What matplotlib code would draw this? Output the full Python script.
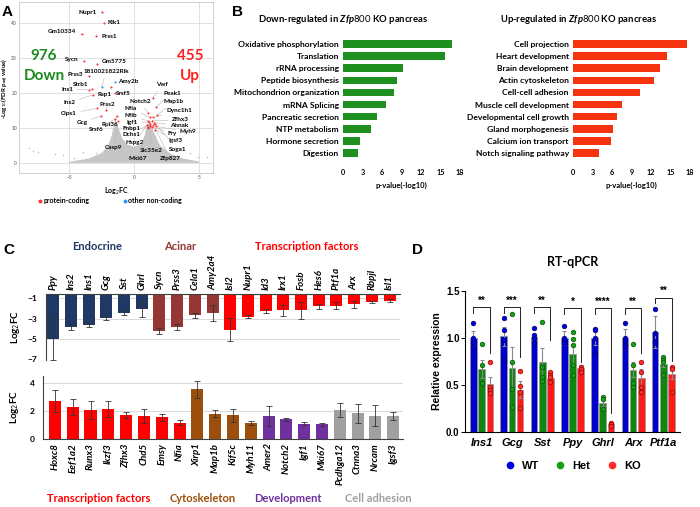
import matplotlib
matplotlib.use("Agg")
import matplotlib.pyplot as plt
from matplotlib.lines import Line2D

plt.rcParams['font.family'] = ['Lato', 'DejaVu Sans']
plt.rcParams['mathtext.fontset'] = 'custom'
plt.rcParams['mathtext.rm'] = 'Lato'
plt.rcParams['mathtext.it'] = 'Lato:italic:bold'
plt.rcParams['mathtext.bf'] = 'Lato:bold'

W, H = 700, 507

# -------------------------
# Panel A data (volcano)
# -------------------------
cloud_x = [-5.0, -3.5, -2.5, -2.0, -1.7, -1.45, -1.2, -0.9, -0.5, 0.0, 0.5, 0.8, 1.0, 1.25, 1.5, 2.0, 2.8, 3.8, 5.0, 5.0, -5.0]
cloud_y = [0.3, 1.2, 2.8, 4.8, 8.0, 12.5, 10.0, 7.0, 5.2, 4.6, 5.2, 7.5, 10.5, 11.5, 9.0, 5.0, 2.6, 1.2, 0.4, 0.0, 0.0]
outlier_x = [-8.1, -7.8, -7.4, -6.1, -5.5, -3.9, -2.9, -1.7, 3.3, 3.9, 4.9, 5.6, -4.6, 4.3]
outlier_y = [4.3, 3.4, 3.1, 2.6, 2.3, 3.1, 2.9, 4.6, 2.3, 0.9, 1.7, 1.7, 1.5, 2.8]

genes = ['Nupr1', 'Klk1', 'Gm10334', 'Prss1', 'Sycn', 'Gm5775', 'Prss3', '1810021822Rik',
         'Strb1', 'Amy2b', 'Ins1', 'Rsp1', 'Srsf5', 'Ins2', 'Clps1', 'Prss2', 'Gcg', 'Rpl36',
         'Srsf6', 'Vwf', 'Peak1', 'Notch2', 'Map1b', 'Nfia', 'Dync1h1', 'Nfib', 'Zfhx3',
         'Igf1', 'Ahnak', 'Fnbp1', 'Fry', 'Myh9', 'Dchs1', 'Igsf3', 'Hspg2', 'Soga1',
         'Casp9', 'Slc35e2', 'Mki67', 'Zfp827']
gene_fc = [-2.48, -2.3, -4.0, -2.9, -3.85, -2.87, -3.44, -2.49, -3.2, -1.46, -3.5, -1.77, -1.46,
           -3.18, -2.87, -2.15, -2.56, -1.28, -1.45, 1.45, 1.7, 1.1, 1.8, 1.2, 1.5, 1.1, 1.4,
           1.15, 1.55, 1.05, 1.4, 1.7, 1.2, 1.6, 1.0, 1.65, -1.2, 1.25, 1.1, 1.5]
gene_p = [43.0, 40.0, 36.8, 36.3, 29.1, 28.2, 24.7, 21.6, 21.0, 23.2, 20.9, 21.6, 20.1,
          19.4, 15.6, 15.1, 13.4, 13.4, 12.5, 18.6, 16.0, 14.3, 13.7, 13.0, 13.0, 12.0, 12.0,
          11.7, 11.5, 10.3, 10.2, 10.4, 11.2, 9.5, 10.8, 11.0, 12.0, 10.6, 10.0, 10.8]
gene_type = ['pc'] * 7 + ['nc'] + ['pc', 'nc'] + ['pc'] * 30

label_x = [-3.58, -1.54, -5.58, -1.88, -4.79, -1.54, -4.48, -2.15, -4.1, -0.46, -5.15, -2.3, -0.85,
           -5.0, -5.0, -2.04, -4.0, -1.88, -2.92, 2.19, 2.92, 0.46, 3.08, -0.23, 3.46, -0.23, 3.6,
           -0.15, 3.46, -0.23, 2.96, 4.15, -0.23, 3.23, 0.05, 3.38, -1.6, 1.3, 0.28, 2.77]
label_y = [42.9, 40.0, 37.6, 36.0, 29.6, 29.1, 25.4, 26.1, 22.3, 23.2, 21.0, 19.6, 19.7,
           17.2, 14.0, 16.6, 11.5, 10.9, 9.4, 22.3, 19.9, 17.5, 17.5, 15.6, 14.9, 13.5, 12.3,
           11.5, 10.7, 9.9, 8.5, 9.0, 8.0, 6.4, 5.8, 3.9, 4.4, 3.4, 1.3, 1.3]

# -------------------------
# Panel B data (GO terms)
# -------------------------
down_terms = ['Oxidative phosphorylation', 'Translation', 'rRNA processing', 'Peptide biosynthesis',
              'Mitochondrion organization', 'mRNA Splicing', 'Pancreatic secretion', 'NTP metabolism',
              'Hormone secretion', 'Digestion']
down_vals = [16.7, 15.7, 9.3, 8.3, 7.8, 6.6, 5.2, 4.3, 2.6, 2.3]
up_terms = ['Cell projection', 'Heart development', 'Brain development', 'Actin cytoskeleton',
            'Cell-cell adhesion', 'Muscle cell development', 'Developmental cell growth',
            'Gland morphogenesis', 'Calcium ion transport', 'Notch signaling pathway']
up_vals = [17.5, 14.5, 13.4, 12.4, 10.3, 7.6, 6.8, 6.2, 5.8, 4.0]

# -------------------------
# Panel C data (log2FC)
# -------------------------
down_genes = ['Ppy', 'Ins2', 'Ins1', 'Gcg', 'Sst', 'Ghrl', 'Sycn', 'Prss3', 'Cela1', 'Amy2a4',
              'Isl2', 'Nupr1', 'Id3', 'Irx1', 'Fosb', 'Hes6', 'Ptf1a', 'Arx', 'Rbpjl', 'Isl1']
down_fc = [-5.0, -3.87, -3.65, -2.9, -2.45, -2.1, -4.2, -3.8, -2.7, -2.45,
           -4.07, -2.84, -2.3, -2.2, -2.2, -1.8, -1.74, -1.6, -1.4, -1.25]
down_err = [2.0, 0.2, 0.2, 0.25, 0.25, 0.75, 0.3, 0.3, 0.2, 0.8,
            1.1, 0.15, 0.2, 0.55, 0.8, 0.25, 0.35, 0.35, 0.12, 0.12]
down_group = ['Endocrine'] * 6 + ['Acinar'] * 4 + ['TF'] * 10

up_genes = ['Hoxc8', 'Eef1a2', 'Runx3', 'Ikzf3', 'Zfhx3', 'Chd5', 'Emsy', 'Nfia', 'Xirp1', 'Map1b',
            'Kif5c', 'Myh11', 'Amer2', 'Notch2', 'Igf1', 'Mki67', 'Pcdhga12', 'Ctnna3', 'Nrcam', 'Igsf3']
up_fc = [2.71, 2.29, 2.07, 2.12, 1.69, 1.64, 1.55, 1.17, 3.55, 1.81,
         1.7, 1.15, 1.65, 1.4, 1.1, 1.05, 2.07, 1.83, 1.67, 1.62]
up_err = [0.77, 0.59, 0.62, 0.57, 0.21, 0.48, 0.24, 0.16, 0.62, 0.24,
          0.47, 0.15, 0.7, 0.12, 0.1, 0.1, 0.53, 0.67, 0.73, 0.28]
up_group = ['TF'] * 8 + ['Cyto'] * 4 + ['Dev'] * 4 + ['Adh'] * 4

# -------------------------
# Panel D data (RT-qPCR)
# -------------------------
qpcr_genes = ['Ins1', 'Gcg', 'Sst', 'Ppy', 'Ghrl', 'Arx', 'Ptf1a']
wt_mean = [1.0, 1.02, 1.01, 1.0, 1.0, 1.0, 1.06]
het_mean = [0.67, 0.68, 0.74, 0.83, 0.31, 0.66, 0.72]
ko_mean = [0.51, 0.45, 0.57, 0.68, 0.08, 0.57, 0.62]
wt_err = [0.07, 0.1, 0.03, 0.07, 0.07, 0.1, 0.17]
het_err = [0.1, 0.22, 0.15, 0.1, 0.03, 0.08, 0.03]
ko_err = [0.08, 0.09, 0.03, 0.03, 0.01, 0.1, 0.06]
wt_pts = [[1.16, 1.0, 0.95, 0.9], [1.21, 1.09, 0.98, 0.77], [1.11, 1.03, 1.0, 0.95],
          [1.13, 1.0, 0.98, 0.95], [1.1, 1.08, 1.0, 0.83], [1.16, 1.0, 0.97, 0.92],
          [1.31, 1.05, 0.97, 0.95]]
het_pts = [[0.94, 0.71, 0.52], [1.26, 0.75, 0.46, 0.27], [1.17, 0.69, 0.58, 0.54],
           [1.06, 0.99, 0.93, 0.71, 0.61], [0.37, 0.35, 0.25], [0.94, 0.71, 0.52, 0.48],
           [0.80, 0.77, 0.74, 0.61]]
ko_pts = [[0.75, 0.48, 0.45, 0.42], [0.65, 0.49, 0.43, 0.26], [0.64, 0.61, 0.58, 0.53],
          [0.69, 0.67, 0.64], [0.10, 0.08, 0.06], [0.75, 0.64, 0.48, 0.43], [0.69, 0.67, 0.43]]
stars = ['**', '***', '**', '*', '****', '**', '**']
bracket_y = [1.33, 1.33, 1.33, 1.32, 1.32, 1.32, 1.43]
bracket_low = [0.84, 0.8, 0.98, 0.75, 0.2, 0.84, 0.76]


fig = plt.figure(figsize=(W / 100, H / 100), dpi=100)


def px_axes(left, top, right, bottom):
    return fig.add_axes([left / W, 1 - bottom / H, (right - left) / W, (bottom - top) / H])


def fig_text(x, y, s, **kw):
    fig.text(x / W, 1 - y / H, s, **kw)


# panel letters
for letter, (lx, ly) in zip('ABCD', [(2, 12), (232, 12), (3, 250), (412, 250)]):
    fig_text(lx, ly, letter, fontsize=11, fontweight='bold', va='center', family='Liberation Sans')

# -------------------------
# Panel A
# -------------------------
axA = px_axes(19, 2, 213, 173)
axA.set_xlim(-8.85, 6.08)
axA.set_ylim(-2.9, 46)
axA.set_xticks([-5, 0, 5])
axA.set_yticks([0, 10, 20, 30, 40])
axA.grid(True, color='#dcdcdc', lw=0.6)
axA.set_axisbelow(True)
for s in axA.spines.values():
    s.set_color('#c8c8c8')
    s.set_linewidth(0.6)
axA.tick_params(labelsize=3.5, length=0, colors='#555555', pad=1.5)
axA.fill(cloud_x, cloud_y, color='#c6c6c6', lw=0, zorder=2)
axA.scatter(outlier_x, outlier_y, s=1.2, color='#bdbdbd', lw=0, zorder=2)
for g, gx, gy, t, lx, ly in zip(genes, gene_fc, gene_p, gene_type, label_x, label_y):
    col = '#ff3030' if t == 'pc' else '#2f8fff'
    axA.annotate(g, xy=(gx, gy), xytext=(lx, ly), fontsize=4.6, fontweight='bold',
                 ha='center', va='center', zorder=4,
                 arrowprops=dict(arrowstyle='-', color='#b5b5b5', lw=0.4, shrinkA=1, shrinkB=0))
    axA.scatter(gx, gy, s=2.2, color=col, lw=0, zorder=5)
axA.text(-6.93, 30.5, '976', color='#1a8a1a', fontsize=11, fontweight='bold', ha='center', va='center')
axA.text(-6.93, 24.8, 'Down', color='#1a8a1a', fontsize=11, fontweight='bold', ha='center', va='center')
axA.text(4.3, 30.5, '455', color='#ff2020', fontsize=11, fontweight='bold', ha='center', va='center')
axA.text(4.3, 24.8, 'Up', color='#ff2020', fontsize=11, fontweight='bold', ha='center', va='center')
axA.set_xlabel('Log$_2$FC', fontsize=5, fontweight='bold', labelpad=4)
fig_text(5, 88, '-Log$_{10}$(FDR p$_{adj}$ value)', fontsize=4.4, fontweight='bold',
         rotation=90, ha='center', va='center')

fig.lines.append(Line2D([40 / W], [1 - 201 / H], marker='o', ms=1.8, color='#ff3030', lw=0, transform=fig.transFigure))
fig.lines.append(Line2D([125 / W], [1 - 201 / H], marker='o', ms=1.8, color='#2f8fff', lw=0, transform=fig.transFigure))
fig_text(44, 201, 'protein-coding', fontsize=5, fontweight='bold', va='center')
fig_text(128, 201, 'other non-coding', fontsize=5, fontweight='bold', va='center')

# -------------------------
# Panel B
# -------------------------
def go_bars(ax, terms, vals, color, title, cx):
    ax.barh(range(len(terms)), vals, height=0.62, color=color)
    ax.set_ylim(9.5, -0.5)
    ax.set_xlim(0, 18)
    ax.set_yticks(range(len(terms)))
    ax.set_yticklabels(terms, fontsize=6.1, fontweight='bold')
    ax.set_xticks([0, 3, 6, 9, 12, 15, 18])
    ax.tick_params(axis='x', labelsize=5.2, length=0, pad=7)
    ax.tick_params(axis='y', length=0, pad=3)
    for lab in ax.get_xticklabels():
        lab.set_fontweight('bold')
    for s in ax.spines.values():
        s.set_visible(False)
    ax.set_xlabel('p-value(-log10)', fontsize=5.5, fontweight='bold', labelpad=4)
    fig_text(cx, 19, title, fontsize=6.8, fontweight='bold', ha='center', va='center')


axB1 = px_axes(343, 38, 460, 159)
go_bars(axB1, down_terms, down_vals, '#1f8f1f', r'Down-regulated in $\mathit{Zfp800}$ KO pancreas', 343)
axB2 = px_axes(573, 38, 690, 159)
go_bars(axB2, up_terms, up_vals, '#f5330f', r'Up-regulated in $\mathit{Zfp800}$ KO pancreas', 578)

# -------------------------
# Panel C
# -------------------------
c_colors = {'Endocrine': '#203864', 'Acinar': '#953735', 'TF': '#ff0000',
            'Cyto': '#9c4f0c', 'Dev': '#7030a0', 'Adh': '#a0a0a0'}

axC1 = px_axes(46, 294, 400, 359.5)
x1 = range(len(down_genes))
axC1.bar(x1, down_fc, width=0.68, color=[c_colors[g] for g in down_group], zorder=2)
axC1.errorbar(x1, down_fc, yerr=down_err, fmt='none', ecolor='#333333', elinewidth=0.6,
              capsize=2, capthick=0.6, zorder=3)
axC1.set_xlim(-0.41, 19.59)
axC1.set_ylim(-7, -0.6)
axC1.set_yticks([-1, -3, -5, -7])
axC1.yaxis.grid(True, color='#d9d9d9', lw=0.7)
axC1.set_axisbelow(True)
axC1.xaxis.tick_top()
axC1.set_xticks(list(x1))
axC1.set_xticklabels(down_genes, rotation=90, fontsize=7, style='italic', fontweight='bold')
axC1.tick_params(axis='x', length=0, pad=3)
axC1.tick_params(axis='y', length=0, labelsize=6, pad=6)
for lab in axC1.get_yticklabels():
    lab.set_fontweight('bold')
axC1.spines['right'].set_visible(False)
axC1.spines['bottom'].set_visible(False)
axC1.spines['top'].set_color('#404040')
axC1.spines['left'].set_color('#404040')
axC1.set_ylabel('Log$_2$FC', fontsize=7, fontweight='bold', labelpad=4)

axC2 = px_axes(43, 376, 403, 439)
x2 = range(len(up_genes))
axC2.bar(x2, up_fc, width=0.68, color=[c_colors[g] for g in up_group], zorder=2)
axC2.errorbar(x2, up_fc, yerr=up_err, fmt='none', ecolor='#333333', elinewidth=0.6,
              capsize=2, capthick=0.6, zorder=3)
axC2.set_xlim(-0.67, 19.55)
axC2.set_ylim(0, 4.5)
axC2.set_yticks([0, 2, 4])
axC2.yaxis.grid(True, color='#d9d9d9', lw=0.7)
axC2.set_axisbelow(True)
axC2.set_xticks(list(x2))
axC2.set_xticklabels(up_genes, rotation=90, fontsize=7, style='italic', fontweight='bold')
axC2.tick_params(axis='x', length=0, pad=3)
axC2.tick_params(axis='y', length=0, labelsize=6, pad=6)
for lab in axC2.get_yticklabels():
    lab.set_fontweight('bold')
axC2.spines['right'].set_visible(False)
axC2.spines['top'].set_visible(False)
axC2.spines['bottom'].set_color('#404040')
axC2.spines['left'].set_color('#404040')
axC2.set_ylabel('Log$_2$FC', fontsize=7, fontweight='bold', labelpad=6)

for txt, cx, cy, col in [('Endocrine', 97, 246, c_colors['Endocrine']),
                         ('Acinar', 180, 246, c_colors['Acinar']),
                         ('Transcription factors', 307, 246, c_colors['TF']),
                         ('Transcription factors', 99, 498, c_colors['TF']),
                         ('Cytoskeleton', 203, 498, c_colors['Cyto']),
                         ('Development', 288, 498, c_colors['Dev']),
                         ('Cell adhesion', 378, 498, c_colors['Adh'])]:
    fig_text(cx, cy, txt, fontsize=8, fontweight='bold', color=col, ha='center', va='center')

# -------------------------
# Panel D
# -------------------------
axD = px_axes(465, 291, 680, 432)
ng = len(qpcr_genes)
offs = [-0.27, 0.0, 0.27]
bw = 0.22
d_bar = ['#0000cc', '#0f870f', '#ff1a1a']
d_dot = ['#0000e0', '#13a013', '#ff2a2a']
d_edge = ['#00006e', '#075207', '#9a0000']
for k, (means, errs, pts) in enumerate([(wt_mean, wt_err, wt_pts), (het_mean, het_err, het_pts),
                                         (ko_mean, ko_err, ko_pts)]):
    xs = [i + offs[k] for i in range(ng)]
    axD.bar(xs, means, width=bw, color=d_bar[k], edgecolor='#9a9a9a', lw=0.5, zorder=2)
    axD.errorbar(xs, means, yerr=errs, fmt='none', ecolor='#8a8a8a', elinewidth=0.8,
                 capsize=1.5, capthick=0.8, zorder=3)
    for x, p in zip(xs, pts):
        axD.scatter([x] * len(p), p, s=11, color=d_dot[k], edgecolor=d_edge[k], lw=0.5,
                    zorder=4, clip_on=False)

for i in range(ng):
    xa, xb = i + offs[0], i + offs[2]
    yb = bracket_y[i]
    axD.plot([xa, xa, xb, xb], [yb - 0.06, yb, yb, bracket_low[i]], color='#222222', lw=0.7,
             clip_on=False, zorder=5)
    axD.text(i, yb + 0.015, stars[i], ha='center', va='bottom', fontsize=7, fontweight='bold',
             family='Liberation Sans', clip_on=False)

axD.set_xlim(-0.55, 6.55)
axD.set_ylim(0, 1.5)
axD.set_yticks([0, 0.5, 1.0, 1.5])
axD.set_yticklabels(['0.0', '0.5', '1.0', '1.5'], fontsize=7, fontweight='bold', family='Liberation Sans')
axD.set_xticks(range(ng))
axD.set_xticklabels(qpcr_genes, fontsize=8, fontweight='bold', style='italic', family='Liberation Sans')
axD.tick_params(axis='x', length=0, pad=4)
axD.tick_params(axis='y', length=3, width=0.7, pad=1)
axD.spines['right'].set_visible(False)
axD.spines['top'].set_visible(False)
axD.spines['left'].set_linewidth(0.8)
axD.spines['bottom'].set_linewidth(0.8)
axD.set_ylabel('Relative expression', fontsize=7.5, fontweight='bold', family='Liberation Sans', labelpad=3)
fig_text(573, 262, 'RT-qPCR', fontsize=9, fontweight='bold', ha='center', va='center')

handles = [Line2D([], [], marker='o', lw=0, ms=4.5, color=d_dot[k], markeredgecolor=d_dot[k])
           for k in range(3)]
axD.legend(handles, ['WT', 'Het', 'KO'], loc='center', bbox_to_anchor=(0.5, -0.24), ncol=3,
           frameon=False, prop={'family': 'Liberation Sans', 'weight': 'bold', 'size': 8},
           handlelength=1.0, handletextpad=0.6, columnspacing=1.4)

fig.savefig('out.png', dpi=100)
